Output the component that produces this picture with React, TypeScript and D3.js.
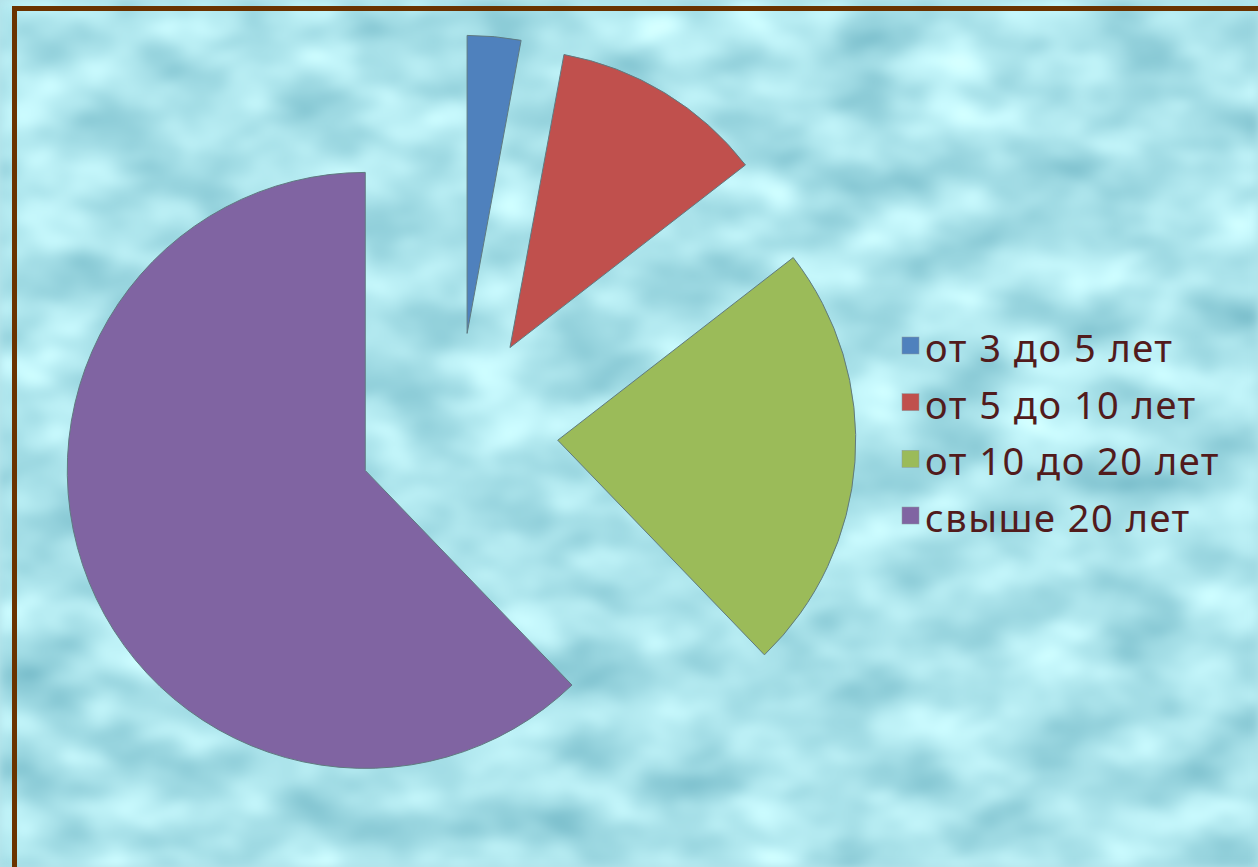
import React, { useEffect } from 'react';
import * as d3 from 'd3';

// стаж работы — доли (в процентах)
const categories = ['от 3 до 5 лет', 'от 5 до 10 лет', 'от 10 до 20 лет', 'свыше 20 лет'];
const shares = [2.9, 11.6, 23.3, 62.2];
const sliceColors = ['#4f81bd', '#c0504d', '#9bbb59', '#8064a2'];

const W = 1258;
const H = 867;

const App = () => {
    useEffect(() => {
        document.body.style.margin = '0';
        document.body.style.overflow = 'hidden';
    }, []);

    const cx = 458;
    const cy = 433;
    const radius = 298;
    const explode = 100;

    const pie = d3.pie<number>().sort(null).startAngle(0).endAngle(2 * Math.PI);
    const arcs = pie(shares);
    const arc = d3.arc<d3.PieArcDatum<number>>().innerRadius(0).outerRadius(radius);

    const legendY = d3.scaleLinear().domain([0, categories.length - 1]).range([362, 532]);

    return (
        <svg width={W} height={H} style={{ display: 'block' }}>
            <defs>
                <filter id="water" x="0" y="0" width="100%" height="100%" colorInterpolationFilters="sRGB">
                    <feTurbulence type="fractalNoise" baseFrequency="0.011 0.02" numOctaves="3" seed="7" />
                    <feColorMatrix
                        type="matrix"
                        values="0.5 0 0 0 0.42  0.38 0 0 0 0.70  0.32 0 0 0 0.76  0 0 0 0 1"
                    />
                    <feGaussianBlur stdDeviation="4" />
                </filter>
            </defs>

            {/* фон */}
            <rect width={W} height={H} fill="#b4e2ea" />
            <rect width={W} height={H} filter="url(#water)" />

            {/* рамка */}
            <rect x={12} y={6} width={W - 12} height={5} fill="#6a3300" />
            <rect x={12} y={6} width={5} height={H - 6} fill="#6a3300" />

            {/* сектора */}
            <g transform={`translate(${cx},${cy})`}>
                {arcs.map((d, i) => {
                    const mid = (d.startAngle + d.endAngle) / 2;
                    const dx = explode * Math.sin(mid);
                    const dy = -explode * Math.cos(mid);
                    return (
                        <path
                            key={categories[i]}
                            d={arc(d) || ''}
                            transform={`translate(${dx},${dy})`}
                            fill={sliceColors[i]}
                            stroke="#5f7a80"
                            strokeWidth={1}
                            strokeLinejoin="round"
                        />
                    );
                })}
            </g>

            {/* легенда */}
            <g>
                {categories.map((c, i) => (
                    <g key={c} transform={`translate(0,${legendY(i)})`}>
                        <rect x={902} y={-25} width={17} height={17} fill={sliceColors[i]} stroke="#8a9aa0" strokeWidth={0.5} />
                        <text
                            x={925}
                            y={0}
                            fontFamily="'Noto Sans', 'Open Sans', sans-serif"
                            fontSize={38}
                            letterSpacing={1.5}
                            fill="#521b1c"
                        >
                            {c}
                        </text>
                    </g>
                ))}
            </g>
        </svg>
    );
};

export default App;
